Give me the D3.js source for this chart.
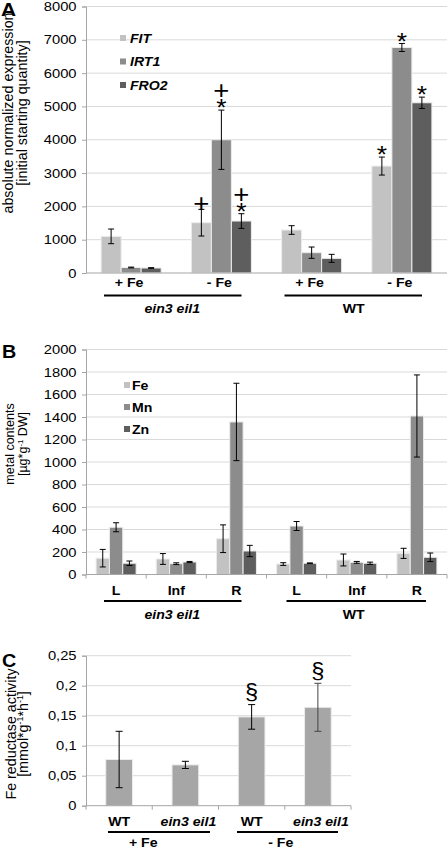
<!DOCTYPE html>
<html><head><meta charset="utf-8">
<script src="https://cdn.jsdelivr.net/npm/d3@7"></script>
<style>
html,body{margin:0;padding:0;background:#fff;}
svg{display:block;font-family:"Liberation Sans",Arial,Helvetica,sans-serif;}
</style></head>
<body><svg id="chart" width="448" height="849"></svg>
<script>
// ---------- Panel A data ----------
const aGroups = ["ein3 eil1 +Fe", "ein3 eil1 -Fe", "WT +Fe", "WT -Fe"];
const aTickLabels = ["+ Fe", "- Fe", "+ Fe", "- Fe"];
const aSeries = ["FIT", "IRT1", "FRO2"];
const aFIT = [1100, 1510, 1290, 3210];
const aFITerr = [220, 400, 130, 270];
const aIRT1 = [165, 4000, 610, 6770];
const aIRT1err = [12, 890, 170, 120];
const aFRO2 = [150, 1560, 440, 5110];
const aFRO2err = [10, 220, 120, 170];
const aYTicks = [0, 1000, 2000, 3000, 4000, 5000, 6000, 7000, 8000];
// significance marks (group index, series index, symbols from bottom to top)
const aMarks = [
  {g: 1, s: 0, syms: ["+"]},
  {g: 1, s: 1, syms: ["*", "+"]},
  {g: 1, s: 2, syms: ["*", "+"]},
  {g: 3, s: 0, syms: ["*"]},
  {g: 3, s: 1, syms: ["*"]},
  {g: 3, s: 2, syms: ["*"]}
];

// ---------- Panel B data ----------
const bGroups = ["ein3 L", "ein3 Inf", "ein3 R", "WT L", "WT Inf", "WT R"];
const bTickLabels = ["L", "Inf", "R", "L", "Inf", "R"];
const bSeries = ["Fe", "Mn", "Zn"];
const bFe = [145, 138, 318, 93, 129, 188];
const bFeErr = [78, 48, 123, 12, 53, 45];
const bMn = [420, 96, 1356, 431, 108, 1409];
const bMnErr = [40, 8, 344, 40, 8, 365];
const bZn = [100, 111, 209, 100, 100, 153];
const bZnErr = [20, 5, 50, 3, 10, 38];
const bYTicks = [0, 200, 400, 600, 800, 1000, 1200, 1400, 1600, 1800, 2000];

// ---------- Panel C data ----------
const cGroups = ["WT +Fe", "ein3 +Fe", "WT -Fe", "ein3 -Fe"];
const cTickLabels = ["WT", "ein3 eil1", "WT", "ein3 eil1"];
const cVals = [0.077, 0.068, 0.148, 0.164];
const cErr = [0.047, 0.006, 0.0205, 0.040];
const cMarks = ["", "", "§", "§"];
const cYTicks = [0, 0.05, 0.1, 0.15, 0.2, 0.25];

// shared group labels
const genoLabels = ["ein3 eil1", "WT"];
const fe = ["+ Fe", "- Fe"];

const svg = d3.select("#chart");
const gridColor = "#d9d9d9", axisColor = "#a6a6a6";
const seriesColors3 = ["#c2c2c2", "#8c8c8c", "#5e5e5e"];
const SX = 1.13; // horizontal stretch of the reference lettering

// horizontal text helper
function htext(g, x, y, str, size, o) {
  o = o || {};
  return g.append("text").attr("transform", `translate(${x},${y}) scale(${SX},1)`)
    .attr("text-anchor", o.anchor || "middle").attr("font-size", size)
    .attr("font-weight", o.bold ? "bold" : "normal").attr("font-style", o.italic ? "italic" : "normal")
    .attr("fill", "#000").text(str);
}

function yAxis(g, y, ticks, fmt, x0, x1) {
  g.selectAll(null).data(ticks.filter(t => t !== 0)).enter().append("line")
    .attr("x1", x0).attr("x2", x1).attr("y1", d => y(d)).attr("y2", d => y(d))
    .attr("stroke", gridColor).attr("stroke-width", 1);
  const ax = g.append("g").attr("transform", `translate(${x0},0)`)
    .call(d3.axisLeft(y).tickValues(ticks).tickSize(4).tickPadding(4).tickFormat(fmt));
  ax.select(".domain").attr("stroke", axisColor);
  ax.selectAll(".tick line").attr("stroke", axisColor);
  ax.selectAll(".tick text").attr("font-size", 12.5).attr("fill", "#000")
    .attr("font-family", "'Liberation Sans',Arial,sans-serif")
    .attr("transform", `scale(${SX + 0.05},1)`);
  return ax;
}

function errBar(g, cx, yTop, yBot, cap, color) {
  g.append("line").attr("x1", cx).attr("x2", cx).attr("y1", yTop).attr("y2", yBot)
    .attr("stroke", color || "#000").attr("stroke-width", 1);
  [yTop, yBot].forEach(yy => g.append("line").attr("x1", cx - cap).attr("x2", cx + cap)
    .attr("y1", yy).attr("y2", yy).attr("stroke", color || "#000").attr("stroke-width", 1));
}

function rotTitle(lines, xs, cy, size) {
  lines.forEach((ln, i) => {
    const t = svg.append("text").attr("transform", `translate(${xs[i]},${cy}) rotate(-90)`)
      .attr("text-anchor", "middle").attr("font-size", size).attr("fill", "#000");
    ln.forEach(part => {
      const ts = t.append("tspan").text(part.t);
      if (part.sup) ts.attr("font-size", size * 0.62).attr("baseline-shift", "super");
    });
  });
}

// ================= PANEL A =================
(function () {
  const L = 86, R = 447, T = 6.5, B = 273;
  const g = svg.append("g");
  const x0 = d3.scaleBand().domain(aGroups).range([L, R]).paddingInner(0.335).paddingOuter(0.1675);
  const x1 = d3.scaleBand().domain(aSeries).range([0, x0.bandwidth()]);
  const y = d3.scaleLinear().domain([0, 8000]).range([B, T]);
  yAxis(g, y, aYTicks, d3.format("d"), L, R);
  const vals = [aFIT, aIRT1, aFRO2], errs = [aFITerr, aIRT1err, aFRO2err];
  aGroups.forEach((grp, gi) => {
    aSeries.forEach((s, si) => {
      g.append("rect").attr("x", x0(grp) + x1(s)).attr("width", x1.bandwidth())
        .attr("y", y(vals[si][gi])).attr("height", y(0) - y(vals[si][gi]))
        .attr("fill", seriesColors3[si]).attr("stroke", "#ececec").attr("stroke-width", 1);
    });
  });
  aGroups.forEach((grp, gi) => {
    aSeries.forEach((s, si) => {
      const cx = x0(grp) + x1(s) + x1.bandwidth() / 2;
      errBar(g, cx, y(vals[si][gi] + errs[si][gi]), y(vals[si][gi] - errs[si][gi]), 3);
    });
  });
  g.append("line").attr("x1", L).attr("x2", R).attr("y1", B).attr("y2", B).attr("stroke", axisColor);
  // significance marks: one text per stack
  aMarks.forEach(m => {
    const cx = x0(aGroups[m.g]) + x1(aSeries[m.s]) + x1.bandwidth() / 2;
    const top = y(vals[m.s][m.g] + errs[m.s][m.g]);
    const t = g.append("text").attr("transform", `translate(${cx},${top}) scale(1.1,1)`)
      .attr("text-anchor", "middle");
    m.syms.forEach((sym, k) => {
      const cyOff = -6.5 - k * 13;
      t.append("tspan").attr("x", 0)
        .attr("y", sym === "*" ? cyOff + 12.7 : cyOff + 8.8)
        .attr("font-size", sym === "*" ? 24 : 25).text(sym);
    });
  });
  // legend
  aSeries.forEach((s, i) => {
    const ly = 38 + i * 23.5;
    g.append("rect").attr("x", 120).attr("y", ly - 3).attr("width", 6).attr("height", 6).attr("fill", seriesColors3[i]);
    htext(g, 130, ly + 4.5, s, 12.5, {anchor: "start", bold: true, italic: true});
  });
  aGroups.forEach((grp, gi) => {
    htext(g, x0(grp) + x0.bandwidth() / 2 - 2, 287, aTickLabels[gi], 12.5, {bold: true});
  });
  const half = (R - L) / 2;
  genoLabels.forEach((lab, i) => {
    const s = L + i * half;
    g.append("line").attr("x1", s + 18).attr("x2", s + half - 25).attr("y1", 295.5).attr("y2", 295.5)
      .attr("stroke", "#000").attr("stroke-width", 2.2);
    htext(g, s + half / 2 - 4 + (i ? 1 : 0), 313, lab, 12.5, {bold: true, italic: i === 0});
  });
  htext(svg, 1, 15.5, "A", 18.5, {anchor: "start", bold: true});
  rotTitle([[{t: "absolute normalized expression"}], [{t: "[initial starting quantity]"}]], [13, 26.5], 113, 14.3);
})();

// ================= PANEL B =================
(function () {
  const L = 86, R = 447, T = 349.5, B = 574.5;
  const g = svg.append("g");
  const x0 = d3.scaleBand().domain(bGroups).range([L, R]).paddingInner(0.335).paddingOuter(0.1675);
  const x1 = d3.scaleBand().domain(bSeries).range([0, x0.bandwidth()]);
  const y = d3.scaleLinear().domain([0, 2000]).range([B, T]);
  yAxis(g, y, bYTicks, d3.format("d"), L, R);
  const vals = [bFe, bMn, bZn], errs = [bFeErr, bMnErr, bZnErr];
  bGroups.forEach((grp, gi) => {
    bSeries.forEach((s, si) => {
      g.append("rect").attr("x", x0(grp) + x1(s)).attr("width", x1.bandwidth())
        .attr("y", y(vals[si][gi])).attr("height", y(0) - y(vals[si][gi]))
        .attr("fill", seriesColors3[si]).attr("stroke", "#ececec").attr("stroke-width", 1);
    });
  });
  bGroups.forEach((grp, gi) => {
    bSeries.forEach((s, si) => {
      const cx = x0(grp) + x1(s) + x1.bandwidth() / 2;
      errBar(g, cx, y(vals[si][gi] + errs[si][gi]), y(Math.max(0, vals[si][gi] - errs[si][gi])), 3);
    });
  });
  g.append("line").attr("x1", L).attr("x2", R).attr("y1", B).attr("y2", B).attr("stroke", axisColor);
  const step = x0.step();
  d3.range(bGroups.length + 1).forEach(i => {
    g.append("line").attr("x1", L + i * step).attr("x2", L + i * step).attr("y1", B).attr("y2", B + 4).attr("stroke", axisColor);
  });
  bSeries.forEach((s, i) => {
    const ly = 385 + i * 22;
    g.append("rect").attr("x", 124).attr("y", ly - 3).attr("width", 6).attr("height", 6).attr("fill", seriesColors3[i]);
    htext(g, 132, ly + 4.5, s, 12.5, {anchor: "start", bold: true});
  });
  bGroups.forEach((grp, gi) => {
    htext(g, x0(grp) + x0.bandwidth() / 2, 595, bTickLabels[gi], 12.5, {bold: true});
  });
  const half = (R - L) / 2;
  genoLabels.forEach((lab, i) => {
    const s = L + i * half;
    g.append("line").attr("x1", s + 18 + (i ? 2 : 0)).attr("x2", s + half - 25 + (i ? 4 : 0)).attr("y1", 601).attr("y2", 601)
      .attr("stroke", "#000").attr("stroke-width", 2.2);
    htext(g, s + half / 2 - 4 + (i ? 1 : 0), 619, lab, 12.5, {bold: true, italic: i === 0});
  });
  htext(svg, 2, 358, "B", 17.5, {anchor: "start", bold: true});
  rotTitle([[{t: "metal contents"}], [{t: "[µg*g"}, {t: "-1", sup: true}, {t: " DW]"}]], [14, 26.5], 444, 12.5);
})();

// ================= PANEL C =================
(function () {
  const L = 86, R = 351, T = 655.7, B = 805.7;
  const g = svg.append("g");
  const x = d3.scaleBand().domain(cGroups).range([L, R]).paddingInner(0.597).paddingOuter(0.2985);
  const y = d3.scaleLinear().domain([0, 0.25]).range([B, T]);
  const fmt = d => d3.format("~g")(d).replace(".", ",");
  yAxis(g, y, cYTicks, fmt, L, R);
  cGroups.forEach((grp, i) => {
    g.append("rect").attr("x", x(grp)).attr("width", x.bandwidth())
      .attr("y", y(cVals[i])).attr("height", y(0) - y(cVals[i]))
      .attr("fill", "#a6a6a6").attr("stroke", "#ececec").attr("stroke-width", 1);
  });
  cGroups.forEach((grp, i) => {
    const cx = x(grp) + x.bandwidth() / 2;
    errBar(g, cx, y(cVals[i] + cErr[i]), y(cVals[i] - cErr[i]), 3.5, i === 3 ? "#444" : "#000");
    if (cMarks[i]) {
      g.append("text").attr("transform", `translate(${cx},${y(cVals[i] + cErr[i]) - 11.5 + 6}) scale(1.1,1)`)
        .attr("text-anchor", "middle").attr("font-size", 21.5).text(cMarks[i]);
    }
  });
  g.append("line").attr("x1", L).attr("x2", R).attr("y1", B).attr("y2", B).attr("stroke", axisColor);
  const step = x.step();
  d3.range(cGroups.length + 1).forEach(i => {
    g.append("line").attr("x1", L + i * step).attr("x2", L + i * step).attr("y1", B).attr("y2", B + 4).attr("stroke", axisColor);
  });
  cGroups.forEach((grp, i) => {
    htext(g, x(grp) + x.bandwidth() / 2 + (i % 2 ? 3 : 0), 826, cTickLabels[i], 12.5, {bold: true, italic: i % 2 === 1});
  });
  const half = (R - L) / 2;
  fe.forEach((lab, i) => {
    const s = L + i * half;
    g.append("line").attr("x1", s + (i ? 18.5 : 22)).attr("x2", s + half - (i ? 13 : 8.5)).attr("y1", 832).attr("y2", 832)
      .attr("stroke", "#000").attr("stroke-width", 2.2);
    htext(g, s + half / 2 + (i ? -4 : -9), 847, lab, 12.5, {bold: true});
  });
  htext(svg, 2, 667, "C", 17.5, {anchor: "start", bold: true});
  rotTitle([[{t: "Fe reductase activity"}], [{t: "[mmol*g"}, {t: "-1", sup: true}, {t: "*h"}, {t: "-1", sup: true}, {t: "]"}]], [16, 28], 734, 14.3);
})();
</script>
</body></html>
